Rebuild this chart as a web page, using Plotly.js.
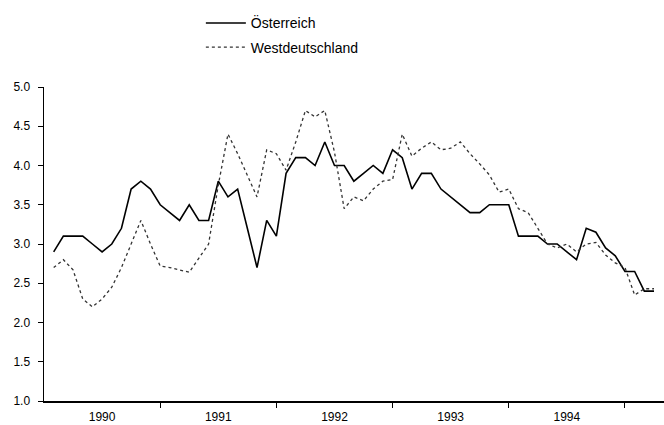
<!DOCTYPE html>
<html>
<head>
<meta charset="utf-8">
<script src="https://cdn.plot.ly/plotly-3.0.1.min.js"></script>
<style>html,body{margin:0;padding:0;background:#fff;}#chart{width:664px;height:425px;}</style>
</head>
<body>
<div id="chart"></div>
<script>
// Monthly series, first value = February 1990
const startYear = 1990;
const startMonthIndex = 1; // months after January 1990
const oesterreich = [2.9, 3.1, 3.1, 3.1, 3.0, 2.9, 3.0, 3.2, 3.7, 3.8, 3.7, 3.5,
  3.4, 3.3, 3.5, 3.3, 3.3, 3.8, 3.6, 3.7, 3.2, 2.7, 3.3, 3.1,
  3.9, 4.1, 4.1, 4.0, 4.3, 4.0, 4.0, 3.8, 3.9, 4.0, 3.9, 4.2,
  4.1, 3.7, 3.9, 3.9, 3.7, 3.6, 3.5, 3.4, 3.4, 3.5, 3.5, 3.5,
  3.1, 3.1, 3.1, 3.0, 3.0, 2.9, 2.8, 3.2, 3.15, 2.95, 2.85, 2.65,
  2.65, 2.4, 2.4];
const westdeutschland = [2.7, 2.8, 2.67, 2.3, 2.2, 2.3, 2.45, 2.7, 3.0, 3.3, 3.0, 2.72,
  2.7, 2.67, 2.64, 2.82, 3.0, 3.75, 4.4, 4.15, 3.88, 3.6, 4.2, 4.15,
  3.94, 4.3, 4.7, 4.62, 4.7, 4.17, 3.45, 3.6, 3.55, 3.7, 3.8, 3.82,
  4.4, 4.12, 4.22, 4.3, 4.2, 4.22, 4.3, 4.15, 4.02, 3.88, 3.66, 3.7,
  3.45, 3.4, 3.2, 3.0, 2.95, 3.0, 2.9, 3.0, 3.02, 2.86, 2.76, 2.7,
  2.35, 2.43, 2.43];
const yearLabels = ['1990', '1991', '1992', '1993', '1994'];
const yTickValues = [1.0, 1.5, 2.0, 2.5, 3.0, 3.5, 4.0, 4.5, 5.0];

const monthX = arr => arr.map((_, i) => startYear + (i + startMonthIndex) / 12);
const yearNums = yearLabels.map(Number);

const fam = 'Arial, "Liberation Sans", sans-serif';
const font = {family: fam, size: 11, color: '#000'};

const traces = [
  {x: monthX(oesterreich), y: oesterreich, name: 'Österreich', type: 'scatter', mode: 'lines',
   legendgroup: 'a', line: {color: '#000', width: 1.6}},
  {x: monthX(westdeutschland), y: westdeutschland, name: 'Westdeutschland', type: 'scatter', mode: 'lines',
   legendgroup: 'b', line: {color: '#333', width: 1.3, dash: 'dot'}}
];

const layout = {
  width: 664, height: 425,
  margin: {l: 44, r: 0, t: 87, b: 24, pad: 0},
  paper_bgcolor: '#fff', plot_bgcolor: '#fff',
  font: font,
  showlegend: true,
  legend: {x: 0.253, xanchor: 'left', y: 1.2535, yanchor: 'top', font: {family: fam, size: 14, color: '#000'},
           bgcolor: 'rgba(0,0,0,0)', tracegroupgap: 3, traceorder: 'grouped', itemwidth: 40},
  xaxis: {
    range: [1990, 1995.336], showgrid: false, zeroline: false,
    showline: true, linecolor: '#000', linewidth: 2,
    tickmode: 'array', tickvals: yearNums.map(v => v + 0.5), ticktext: yearLabels,
    ticks: '', tickfont: {family: fam, size: 12, color: '#000'}, ticklabelstandoff: 4,
    minor: {tickmode: 'array', tickvals: yearNums.map(v => v + 1), ticks: 'outside',
            ticklen: 5, tickwidth: 1, tickcolor: '#000', showgrid: false}
  },
  yaxis: {
    range: [1, 5], showgrid: false, zeroline: false,
    showline: true, linecolor: '#000', linewidth: 1.5,
    tickmode: 'array', tickvals: yTickValues, ticktext: yTickValues.map(v => v.toFixed(1)),
    ticks: 'outside', ticklen: 5, tickwidth: 1, tickcolor: '#000', tickfont: {family: fam, size: 12, color: '#000'},
    ticklabelstandoff: 5
  }
};

Plotly.newPlot('chart', traces, layout, {displayModeBar: false, staticPlot: true});
</script>
</body>
</html>
